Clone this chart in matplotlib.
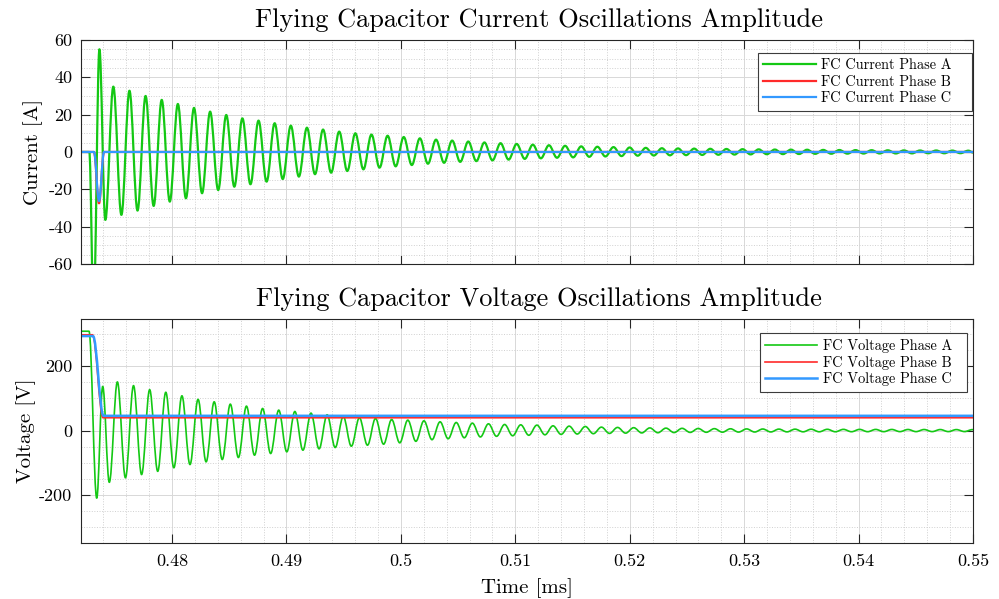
import numpy as np
import matplotlib.pyplot as plt
from matplotlib.ticker import MultipleLocator
from matplotlib.path import Path
from matplotlib.patches import PathPatch

plt.rcParams['font.family'] = ['cmr10', 'DejaVu Serif']
plt.rcParams['axes.unicode_minus'] = False
plt.rcParams['axes.formatter.use_mathtext'] = False

# ---- time axis [ms] ----
t_min, t_max = 0.47202, 0.55
half_period = 0.000705          # spacing between successive extrema
x_ticks = [0.48, 0.49, 0.50, 0.51, 0.52, 0.53, 0.54, 0.55]
x_tick_labels = ['0.48', '0.49', '0.5', '0.51', '0.52', '0.53', '0.54', '0.55']

# ---- FC current, phase A (turning points) ----
ia_start_t = [0.47202, 0.472771, 0.473147, 0.473654, 0.474170]
ia_start_v = [0, 0, -85, 55, -36.4]
ia_osc_t0 = 0.474869
ia_peaks = [35.0, 32.8, 30.0, 27.9, 25.7, 23.6, 21.6, 19.8, 18.0, 16.8,
            15.4, 14.1, 13.0, 12.0, 10.9, 10.0, 9.3, 8.7, 8.0, 7.3,
            6.6, 6.1, 5.6, 5.1, 4.7, 4.3, 3.9, 3.6, 3.3, 3.0,
            2.8, 2.6, 2.4, 2.2, 2.0, 1.9, 1.8, 1.7, 1.6, 1.5,
            1.4, 1.3, 1.25, 1.2, 1.1, 1.05, 1.0, 0.95, 0.9, 0.85,
            0.8, 0.8, 0.75, 0.7]
ia_troughs = [-33.7, -31.4, -28.9, -26.6, -24.8, -22.1, -20.4, -18.6, -17.3, -15.9,
              -14.5, -13.2, -11.9, -11.1, -10.2, -9.3, -8.4, -7.7, -7.0, -6.3,
              -5.8, -5.3, -4.9, -4.5, -4.1, -3.7, -3.4, -3.1, -2.9, -2.6,
              -2.4, -2.2, -2.0, -1.9, -1.8, -1.7, -1.6, -1.5, -1.4, -1.3,
              -1.2, -1.15, -1.1, -1.0, -0.95, -0.9, -0.85, -0.8, -0.8, -0.75,
              -0.7, -0.7, -0.65]
ia_end = -0.3

# ---- FC current, phases B and C ----
ibc_t = [0.47202, 0.473182, 0.473619, 0.474056, 0.55]
ib_v = [0, 0, -27.5, 0, 0]
ic_v = [0, 0, -26.3, 0, 0]

# ---- FC voltage, phase A (turning points) ----
va_start_t = [0.47202, 0.472745, 0.473418, 0.473942]
va_start_v = [308, 308, -209, 137]
va_osc_t0 = 0.474519
va_troughs = [-160, -146, -136, -126, -115, -105, -96.6, -89.4, -83.2, -76,
              -70.8, -65.6, -60.5, -56.3, -52.2, -48.1, -45, -41.9, -37.7, -33,
              -28, -25, -22, -19.5, -17.5, -15.8, -14.2, -12.8, -11.5, -10.4,
              -9.4, -8.5, -7.7, -7.0, -6.4, -5.9, -5.4, -5.0, -4.7, -4.4,
              -4.2, -4.0, -3.8, -3.6, -3.5, -3.4, -3.3, -3.2, -3.1, -3.0,
              -3.0, -2.9, -2.9, -2.8]
va_peaks = [151, 139.5, 127, 119, 108, 97, 89.4, 82.2, 76, 68.7,
            63.6, 59.4, 54.3, 49.1, 43.9, 39.8, 37.7, 34.6, 32.6, 30.5,
            27.4, 25.3, 23.3, 21.2, 19.1, 18.1, 17.1, 15, 14, 12.9,
            10.9, 10.0, 9.2, 8.5, 7.8, 7.2, 6.7, 6.2, 5.8, 5.4,
            5.1, 4.8, 4.6, 4.4, 4.2, 4.0, 3.9, 3.8, 3.7, 3.6,
            3.5, 3.4, 3.3, 3.2]
va_end = 3.1

# ---- FC voltage, phases B and C ----
vb_t = [0.47202, 0.473051, 0.473969, 0.55]
vb_v = [297, 297, 40, 40]
vc_t = [0.47202, 0.473094, 0.474012, 0.55]
vc_v = [293, 293, 46, 46]

green, red, blue = '#14c814', '#ff2a2a', '#3399ff'


def build(start_t, start_v, t0, first, second, end_v):
    vals = np.empty(len(first) + len(second))
    vals[0::2] = first
    vals[1::2] = second
    t = t0 + half_period * np.arange(len(vals))
    return (np.concatenate([start_t, t, [t_max]]),
            np.concatenate([start_v, vals, [end_v]]))


def smooth_path(t, v, k=0.3634):
    # cubic segments with flat tangents at every turning point
    verts = [(t[0], v[0])]
    codes = [Path.MOVETO]
    for i in range(1, len(t)):
        h = t[i] - t[i - 1]
        verts += [(t[i - 1] + k * h, v[i - 1]), (t[i] - k * h, v[i]), (t[i], v[i])]
        codes += [Path.CURVE4] * 3
    return Path(verts, codes)


def draw(ax, t, v, color, lw, label):
    ax.add_patch(PathPatch(smooth_path(t, v), fill=False, edgecolor=color, lw=lw,
                           capstyle='round', joinstyle='round'))
    ax.plot([], [], color=color, lw=lw, label=label)


ia_t, ia_v = build(ia_start_t, ia_start_v, ia_osc_t0, ia_peaks, ia_troughs, ia_end)
va_t, va_v = build(va_start_t, va_start_v, va_osc_t0, va_troughs, va_peaks, va_end)

fig = plt.figure(figsize=(9.99, 5.99), dpi=100)
ax1 = fig.add_axes([0.0808, 0.5593, 0.8932, 0.374])
ax2 = fig.add_axes([0.0808, 0.0935, 0.8932, 0.374])

draw(ax1, ia_t, ia_v, green, 1.6, 'FC Current Phase A')
draw(ax1, ibc_t, ib_v, red, 1.6, 'FC Current Phase B')
draw(ax1, ibc_t, ic_v, blue, 1.6, 'FC Current Phase C')

draw(ax2, va_t, va_v, green, 1.2, 'FC Voltage Phase A')
draw(ax2, vb_t, vb_v, red, 1.2, 'FC Voltage Phase B')
draw(ax2, vc_t, vc_v, blue, 1.8, 'FC Voltage Phase C')

ax1.set_ylim(-60, 60)
ax1.set_yticks([-60, -40, -20, 0, 20, 40, 60])
ax1.yaxis.set_minor_locator(MultipleLocator(5))
ax2.set_ylim(-348, 346)
ax2.set_yticks([-200, 0, 200])
ax2.yaxis.set_minor_locator(MultipleLocator(50))

for ax in (ax1, ax2):
    ax.set_xlim(t_min, t_max)
    ax.set_xticks(x_ticks)
    ax.set_xticklabels(x_tick_labels)
    ax.xaxis.set_minor_locator(MultipleLocator(0.002))
    ax.grid(which='major', color='#d8d8d8', lw=0.7)
    ax.grid(which='minor', color='#d0d0d0', lw=0.7, ls=':')
    ax.set_axisbelow(True)
    ax.tick_params(which='major', direction='in', top=True, right=True,
                   length=6.5, width=0.8, color='#262626', labelsize=13)
    ax.tick_params(axis='y', pad=6)
    ax.tick_params(axis='x', pad=8)
    ax.tick_params(which='minor', length=0)
    for s in ax.spines.values():
        s.set_color('#262626')
        s.set_linewidth(0.8)

ax1.tick_params(labelbottom=False)

ax1.set_title('Flying Capacitor Current Oscillations Amplitude', fontsize=19, pad=9, x=0.514)
ax2.set_title('Flying Capacitor Voltage Oscillations Amplitude', fontsize=19, pad=9, x=0.514)
ax1.set_ylabel('Current [A]', fontsize=15)
ax2.set_ylabel('Voltage [V]', fontsize=15, labelpad=2)
ax2.set_xlabel('Time [ms]', fontsize=15, labelpad=6)

# legend boxes (axes fractions): wider than their content, like the original
legend_boxes = {ax1: (0.759, 0.5, 0.2398, 0.442), ax2: (0.761, 0.5, 0.232, 0.436)}
for ax, box in legend_boxes.items():
    leg = ax.legend(loc='upper right', bbox_to_anchor=box, mode='expand',
                    borderaxespad=0, fontsize=10.3, handlelength=3.65,
                    handletextpad=0.4, labelspacing=0.2, borderpad=0.38,
                    fancybox=False, framealpha=1, edgecolor='#3c3c3c')
    leg.get_frame().set_linewidth(0.8)

fig.savefig('out.png', dpi=100)
